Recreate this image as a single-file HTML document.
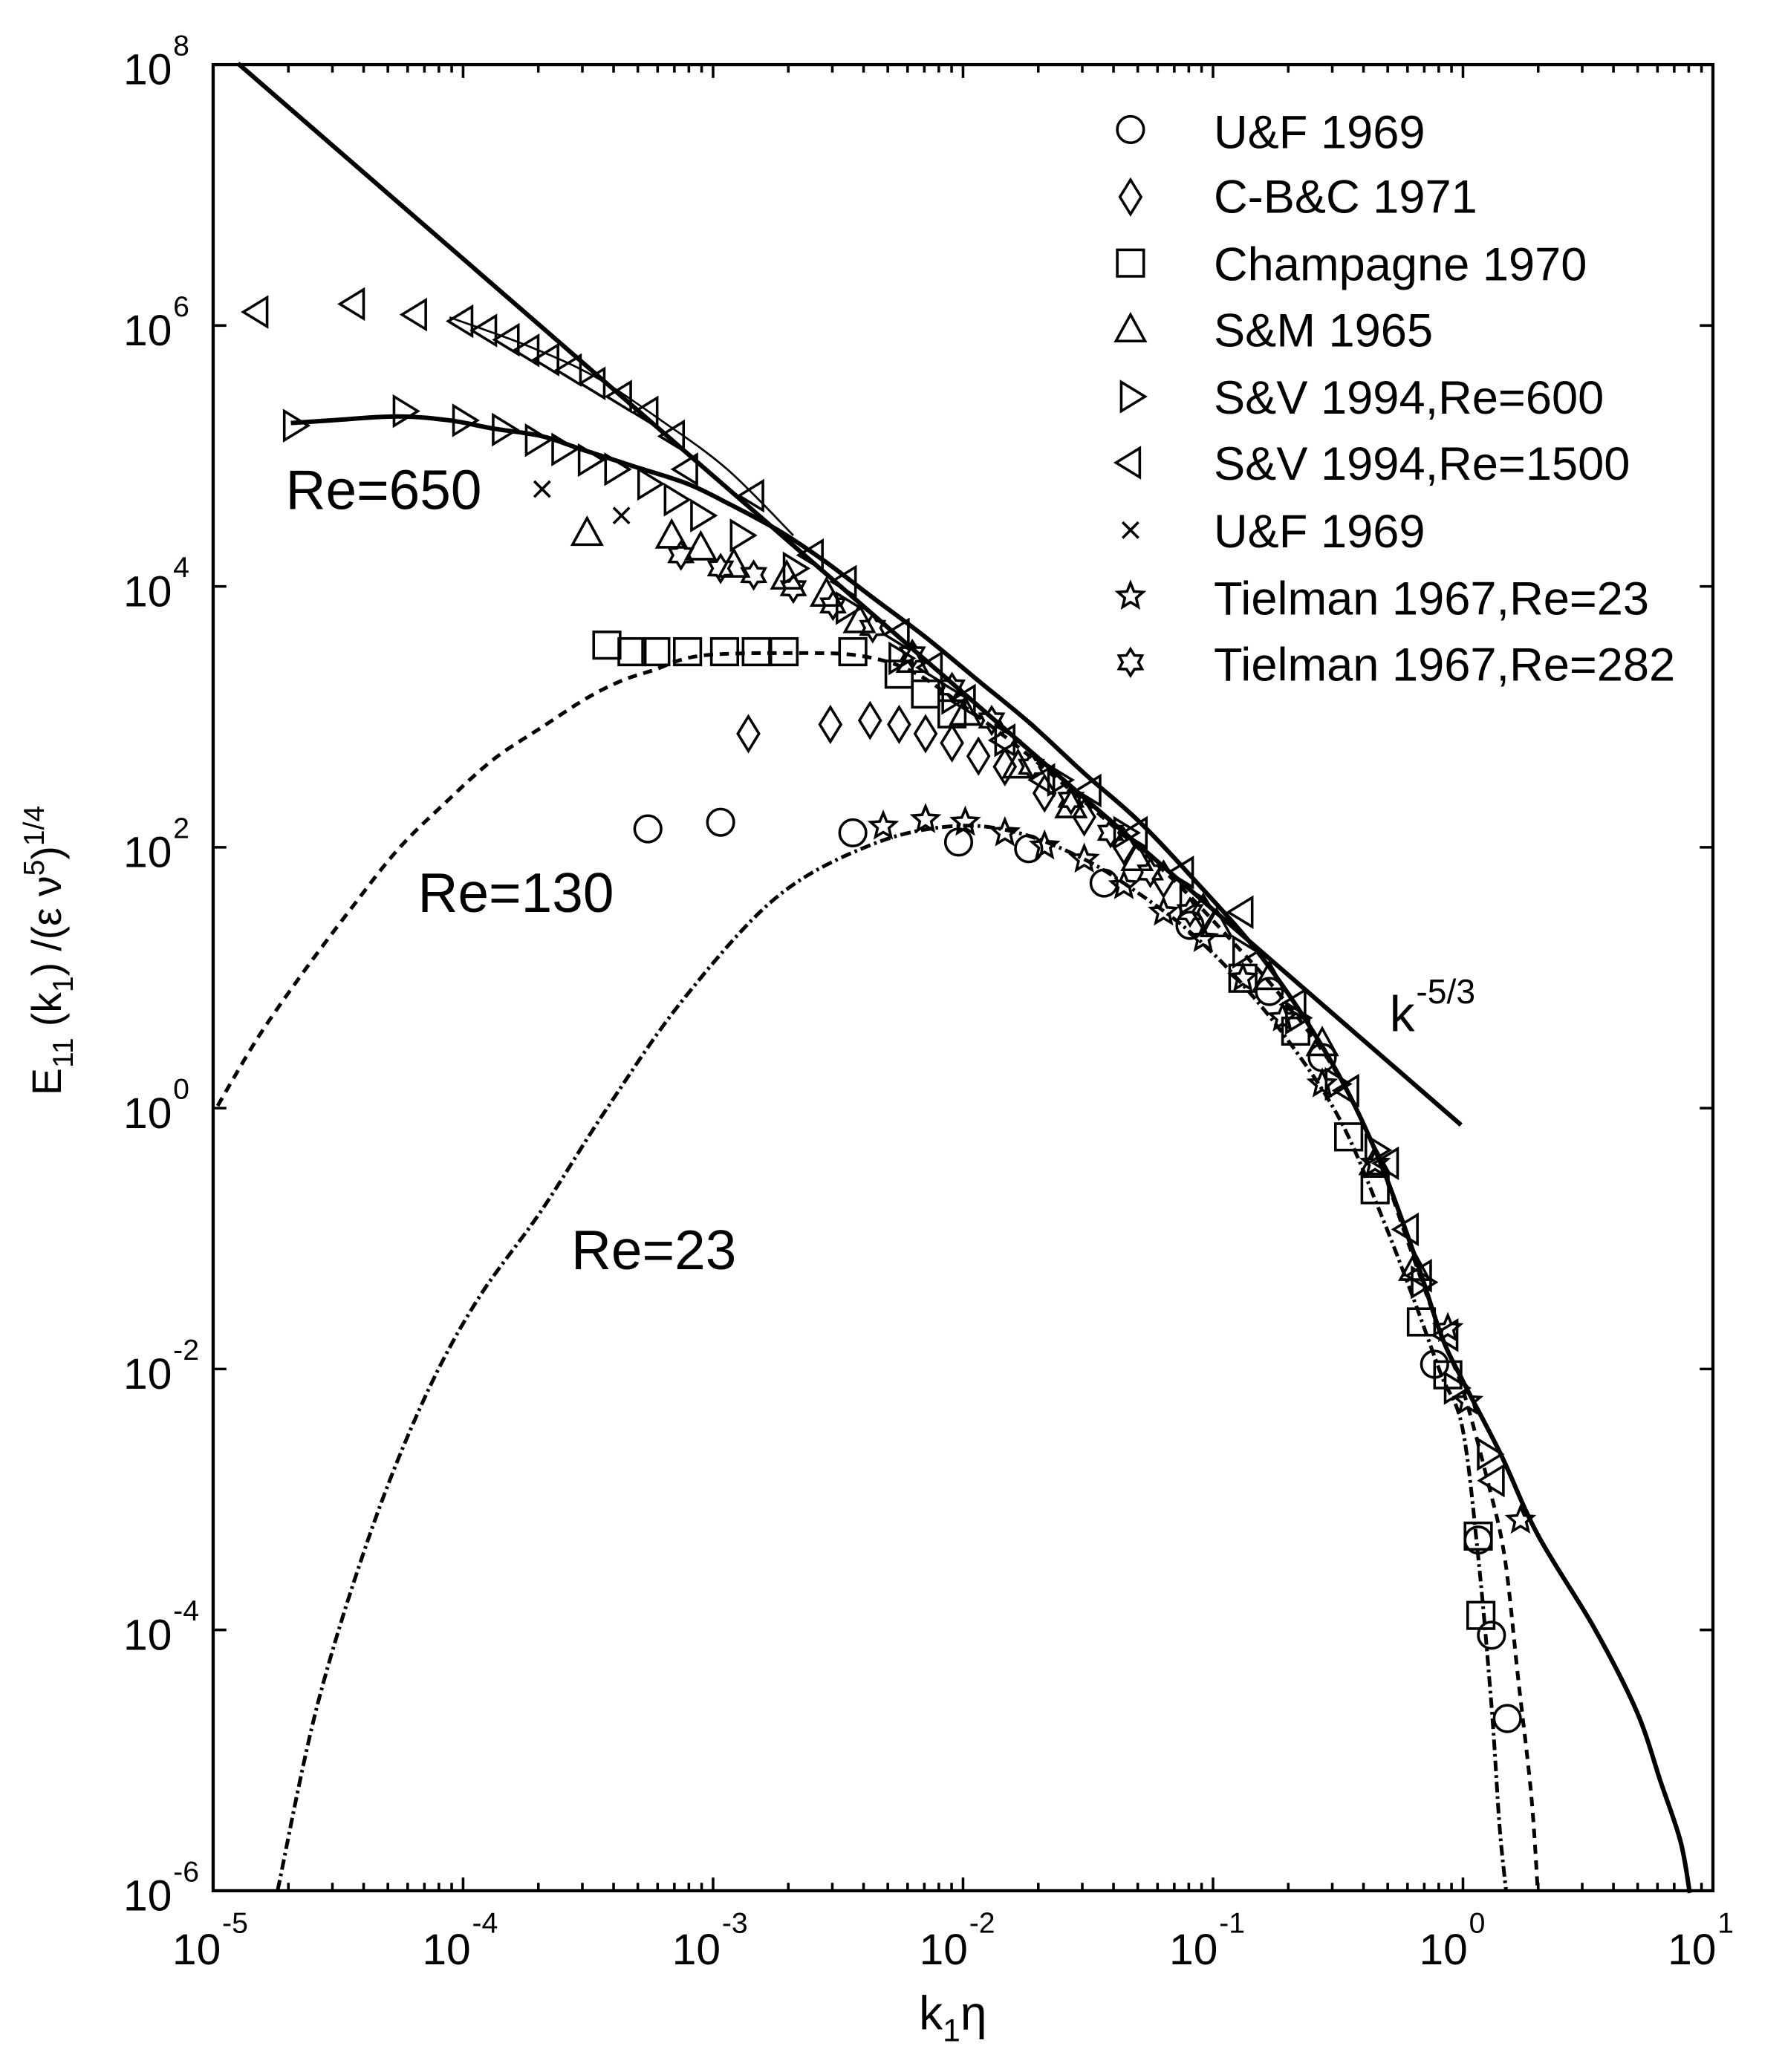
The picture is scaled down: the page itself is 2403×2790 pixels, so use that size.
<!DOCTYPE html>
<html><head><meta charset="utf-8"><style>
html,body{margin:0;padding:0;background:#fff;}
svg{display:block;}
text{font-family:"Liberation Sans",Arial,sans-serif;fill:#000;}
</style></head><body>
<svg xmlns="http://www.w3.org/2000/svg" width="2403" height="2790" viewBox="0 0 1350 1567.4">
<rect x="0" y="0" width="1350" height="1567.4" fill="#fff"/>
<g id="ticks" stroke="#000" stroke-width="2"></g>
<rect x="161.2" y="48.9" width="1134.3" height="1381.4" fill="none" stroke="#000" stroke-width="2.4"/>
<g font-size="33">
<text x="167" y="1486" text-anchor="end">10</text><text x="168" y="1462" font-size="22">-5</text>
<text x="356" y="1486" text-anchor="end">10</text><text x="357" y="1462" font-size="22">-4</text>
<text x="545" y="1486" text-anchor="end">10</text><text x="546" y="1462" font-size="22">-3</text>
<text x="732" y="1486" text-anchor="end">10</text><text x="733" y="1462" font-size="22">-2</text>
<text x="921" y="1486" text-anchor="end">10</text><text x="922" y="1462" font-size="22">-1</text>
<text x="1110" y="1486" text-anchor="end">10</text><text x="1111" y="1462" font-size="22">0</text>
<text x="1298" y="1486" text-anchor="end">10</text><text x="1299" y="1462" font-size="22">1</text>
</g>
<g font-size="33" id="ylab"></g>
<text transform="translate(46,719) rotate(-90)" font-size="31" text-anchor="middle">E<tspan font-size="22" dy="9">11</tspan><tspan dy="-9"> (k</tspan><tspan font-size="22" dy="9">1</tspan><tspan dy="-9">) /(ε ν</tspan><tspan font-size="22" dy="-13">5</tspan><tspan dy="13">)</tspan><tspan font-size="22" dy="-13">1/4</tspan></text>
<text x="695" y="1535" font-size="36">k<tspan font-size="24" dy="9">1</tspan><tspan dy="-9">η</tspan></text>
<text x="216" y="385" font-size="42">Re=650</text>
<text x="316" y="690" font-size="42">Re=130</text>
<text x="432" y="960" font-size="42">Re=23</text>
<text x="1051" y="780" font-size="38">k</text><text x="1071" y="759" font-size="26">-5/3</text>
<g id="curves" fill="none" stroke="#000" stroke-linejoin="round"></g>
<g id="marks" fill="none" stroke="#000" stroke-width="2"></g>
<g font-size="35.5">
<text x="918" y="112">U&amp;F 1969</text>
<text x="918" y="161">C-B&amp;C 1971</text>
<text x="918" y="212">Champagne 1970</text>
<text x="918" y="262">S&amp;M 1965</text>
<text x="918" y="313">S&amp;V 1994,Re=600</text>
<text x="918" y="363">S&amp;V 1994,Re=1500</text>
<text x="918" y="414">U&amp;F 1969</text>
<text x="918" y="465">Tielman 1967,Re=23</text>
<text x="918" y="515">Tielman 1967,Re=282</text>
</g>
</svg>
<script>
var NS="http://www.w3.org/2000/svg";
function el(p,t,a){var e=document.createElementNS(NS,t);for(var k in a)e.setAttribute(k,a[k]);p.appendChild(e);return e;}
var L=161.2,R=1295.5,T=48.9,B=1430.3,dx=(R-L)/6,dy=(B-T)/14;
var tk=document.getElementById('ticks');
for(var d=0;d<6;d++){for(var m=1;m<10;m++){var x=L+dx*(d+Math.log10(m));var len=m==1?10:6;
el(tk,'line',{x1:x,y1:B,x2:x,y2:B-len});el(tk,'line',{x1:x,y1:T,x2:x,y2:T+len});}}
for(var j=0;j<=14;j+=2){var y=B-dy*j;el(tk,'line',{x1:L,y1:y,x2:L+10,y2:y});el(tk,'line',{x1:R,y1:y,x2:R-10,y2:y});}
var yl=document.getElementById('ylab');
var ex=['-6','-4','-2','0','2','4','6','8'];
for(var i=0;i<8;i++){var y=B-dy*2*i;var t=el(yl,'text',{x:130,y:y+15,'text-anchor':'end'});t.textContent='10';
var s=el(yl,'text',{x:131,y:y-7,'font-size':22});s.textContent=ex[i];}
/* Catmull-Rom smoothing */
function pth(a){var p=[];for(var i=0;i<a.length;i+=2)p.push([a[i],a[i+1]]);
var s='M'+p[0][0]+','+p[0][1];
for(var i=0;i<p.length-1;i++){var p0=p[i-1]||p[i],p1=p[i],p2=p[i+1],p3=p[i+2]||p2;
var c1x=p1[0]+(p2[0]-p0[0])/6,c1y=p1[1]+(p2[1]-p0[1])/6,c2x=p2[0]-(p3[0]-p1[0])/6,c2y=p2[1]-(p3[1]-p1[1])/6;
s+=' C'+c1x.toFixed(1)+','+c1y.toFixed(1)+' '+c2x.toFixed(1)+','+c2y.toFixed(1)+' '+p2[0]+','+p2[1];}
return s;}
var cv=document.getElementById('curves');
el(cv,'path',{d:'M180,48 L1105,851','stroke-width':3.4});
el(cv,'path',{d:pth([220,320,250,318,300,315,340,318,372,324,410,330,440,340,480,353,520,366,551,381,590,402,623,424,660,452,700,482,740,515,780,548,820,585,860,620,900,662,955,725,1005,800,1040,870,1070,950,1090,1010,1106,1044,1135,1100,1163,1161,1206,1232,1238,1295,1256,1348,1271,1393,1278,1432]),'stroke-width':3.4});
el(cv,'path',{d:pth([340,240,400,262,450,285,500,318,550,355,600,405]),'stroke-width':1.5});
el(cv,'path',{d:pth([164.6,836.5,195,785,229,736,265,688,300.6,643,336,608,372.5,575,410,550,444,528,470,515,494,507,530,496,600,494,650,496,690,508,730,535,770,565,810,598,850,632,890,668,930,710,970,755,1010,810,1040,870,1065,940,1090,1010,1106,1050,1125,1120,1138,1178,1148,1268,1158,1357,1163,1430]),'stroke-width':2.8,'stroke-dasharray':'7,5'});
el(cv,'path',{d:pth([210,1430,240,1290,280,1160,320,1060,360,985,410,915,458,840,516,757,587,679,659,639,720,625,770,630,820,650,860,675,900,705,940,745,980,795,1015,850,1045,920,1070,985,1090,1040,1106,1080,1118,1178,1128,1290,1134,1380,1139,1430]),'stroke-width':2.8,'stroke-dasharray':'8,3,2,3'});
var mk=document.getElementById('marks');
function circ(x,y){el(mk,'circle',{cx:x,cy:y,r:10});}
function dia(x,y){el(mk,'path',{d:'M'+x+','+(y-13)+' l8,13 l-8,13 l-8,-13z'});}
function sq(x,y){el(mk,'rect',{x:x-10,y:y-10,width:20,height:20});}
function tu(x,y){el(mk,'path',{d:'M'+x+','+(y-12)+' l11,20 l-22,0z'});}
function tr(x,y){el(mk,'path',{d:'M'+(x+11)+','+y+' l-18,-11 l0,22z'});}
function tl(x,y){el(mk,'path',{d:'M'+(x-11)+','+y+' l18,-11 l0,22z'});}
function cr(x,y){el(mk,'path',{d:'M'+(x-6)+','+(y-6)+' l12,12 m0,-12 l-12,12'});}
function star(x,y,n,ro,ri){var s='';for(var i=0;i<2*n;i++){var r=i%2?ri:ro,a=-Math.PI/2+i*Math.PI/n;s+=(i?'L':'M')+(x+r*Math.cos(a)).toFixed(1)+','+(y+r*Math.sin(a)).toFixed(1);}el(mk,'path',{d:s+'z'});}
function st5(x,y){star(x,y,5,10,4.5);} function st6(x,y){star(x,y,6,10,6);}
function each(f,a){for(var i=0;i<a.length;i+=2)f(a[i],a[i+1]);}
each(circ,[490,627,545,622,645,630,725,637,778,642,835,668,900,700,960,750,1000,800,1085,1032,1118,1165,1128,1237,1140,1300]);
each(dia,[566,555,628,548,658,545,680,548,700,555,720,562,740,572,760,580,790,600,820,618,850,640,880,665,910,690]);
each(sq,[459,488,478,493,496,493,520,493,548,493,572,493,593,493,645,493,680,510,700,525,720,540,940,740,980,780,1020,860,1040,900,1075,1000,1095,1040,1118,1162,1120,1222]);
each(tu,[444,404,508,406,530,415,555,428,595,437,625,450,650,470,690,500,730,540,770,580,810,610,860,650,920,700,960,740,1000,790,1040,880,1070,960]);
each(tr,[222,322,305,311,350,318,380,325,405,333,425,340,445,348,465,355,490,366,510,378,530,390,560,405,600,430,640,460,680,498,720,528,760,560,800,590,850,630,900,680,940,720,980,770,1010,820,1040,870,1075,970,1100,1050,1125,1100]);
each(tl,[195,236,268,230,315,238,350,243,368,250,385,257,400,265,415,272,432,280,450,290,470,300,490,312,510,330,520,355,570,375,615,420,640,440,680,480,705,505,730,530,760,560,790,590,825,598,860,630,895,660,940,690,980,760,1020,825,1050,880,1065,930,1075,965,1095,1010,1130,1120]);
each(cr,[410,370,470,390]);
each(st5,[668,625,700,620,730,622,760,630,790,640,820,650,850,670,880,690,910,710,940,740,970,770,1000,820,1040,880,1095,1005,1110,1060,1150,1150]);
each(st6,[515,420,545,430,570,435,600,445,630,458,660,475,690,495,720,520,750,545,780,580,810,605,840,630,870,660,900,690]);
circ(855,98);dia(855,149);sq(855,199);tu(855,250);tr(855,300);tl(855,350);cr(855,401);st5(855,451);st6(855,501);
</script>
</body></html>
